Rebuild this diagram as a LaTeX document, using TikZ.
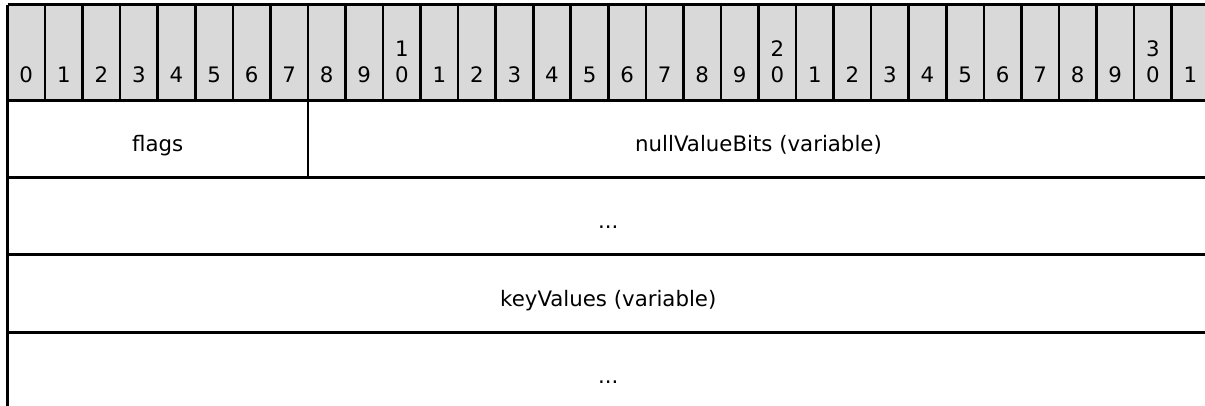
\documentclass[tikz,border=0pt]{standalone}
\usepackage{fontspec}
\setmainfont{DejaVu Sans}
\usetikzlibrary{positioning}
\definecolor{hdrgray}{RGB}{217,217,217}

\begin{document}
\begin{tikzpicture}[x=1pt,y=-1pt]
    \tikzset{
      bitnum/.style={
        anchor=south,
        inner sep=0pt,
        align=center,
        font=\fontsize{21.3}{26}\selectfont,
      },
      field/.style={
        anchor=base,
        inner sep=0pt,
        font=\fontsize{21.3}{26}\selectfont,
      },
      hline/.style={line width=3pt},
      vline/.style={line width=2.6pt},
    }

    \pgfmathsetmacro{\L}{7.5}
    \pgfmathsetmacro{\CW}{37.55}
    \pgfmathsetmacro{\R}{\L+32*\CW}

    \clip (0,0) rectangle (1205,406);

    % header row
    \fill[hdrgray] (\L,5) rectangle (\R,101);
    \foreach \i in {1,...,32}
        \draw[vline] ({\L+\i*\CW},5) -- ({\L+\i*\CW},101);
    \foreach \i in {0,...,31} {
        \pgfmathtruncatemacro{\u}{mod(\i,10)}
        \pgfmathtruncatemacro{\t}{div(\i,10)}
        \ifnum\i>0 \ifnum\u=0
            \node[bitnum] (b\i) at ({\L+(\i+0.5)*\CW},83) {\t\\0};
        \else
            \node[bitnum] (b\i) at ({\L+(\i+0.5)*\CW},83) {\u};
        \fi \else
            \node[bitnum] (b\i) at ({\L+(\i+0.5)*\CW},83) {\u};
        \fi
    }

    % rows
    \foreach \y in {5,101,178,255,332}
        \draw[hline] (\L,\y) -- (\R,\y);
    \draw[vline] (\L,5) -- (\L,410);
    \draw[vline] ({\L+8*\CW},101) -- ({\L+8*\CW},178);

    \node[field] (flags)    at ({\L+4*\CW},152)  {flags};
    \node[field] (nullbits) at ({\L+20*\CW},152) {nullValueBits (variable)};
    \node[field] (cont1)    at ({(\L+\R)/2},229) {...};
    \node[field] (keyvals)  at ({(\L+\R)/2},306) {keyValues (variable)};
    \node[field] (cont2)    at ({(\L+\R)/2},383) {...};
\end{tikzpicture}
\end{document}
